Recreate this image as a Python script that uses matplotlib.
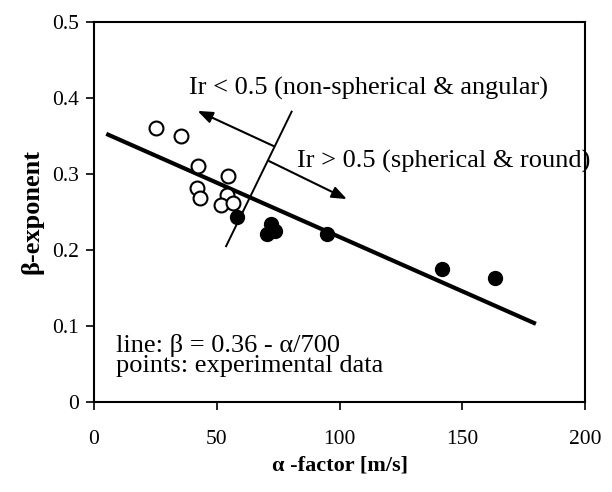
import numpy as np
import matplotlib
matplotlib.use('Agg')
import matplotlib.pyplot as plt

plt.rcParams['font.family'] = ['Liberation Serif', 'DejaVu Serif']

# experimental points, Ir < 0.5 (open) and Ir > 0.5 (filled)
alpha_open = [25.3, 35.4, 42.5, 54.7, 41.8, 43.2, 54.1, 51.6, 56.5]
beta_open = [0.361, 0.350, 0.310, 0.297, 0.282, 0.268, 0.273, 0.259, 0.262]
alpha_filled = [58.1, 72.0, 70.3, 73.7, 95.0, 141.6, 163.3]
beta_filled = [0.243, 0.234, 0.221, 0.225, 0.221, 0.175, 0.163]

# fitted line beta = 0.36 - alpha/700
line_intercept = 0.36
line_divisor = 700
line_alpha = np.array([5, 180])
line_beta = line_intercept - line_alpha / line_divisor

# boundary between the two particle groups
sep_alpha = [53.8, 80.5]
sep_beta = [0.205, 0.382]

fig = plt.figure(figsize=(6.12, 4.92), dpi=100)
ax = fig.add_axes([94 / 612, 1 - 402 / 492, (585 - 94) / 612, (402 - 22) / 492])

ax.plot(line_alpha, line_beta, color='black', lw=3.0, solid_capstyle='butt', zorder=2)
ax.plot(sep_alpha, sep_beta, color='black', lw=1.4, zorder=2)
ax.scatter(alpha_open, beta_open, s=100, facecolors='white', edgecolors='black', linewidths=1.5, zorder=3)
ax.scatter(alpha_filled, beta_filled, s=100, color='black', zorder=3)

arrow_style = dict(arrowstyle='-|>,head_length=0.9,head_width=0.35', color='black', lw=1.5,
                   shrinkA=0, shrinkB=0)
ax.annotate('', xy=(42.2, 0.383), xytext=(73.0, 0.337), arrowprops=arrow_style)
ax.annotate('', xy=(103.0, 0.267), xytext=(71.3, 0.317), arrowprops=arrow_style)

ax.text(38.5, 0.412, 'Ir < 0.5 (non-spherical & angular)', fontsize=19, va='center')
ax.text(82.5, 0.316, 'Ir > 0.5 (spherical & round)', fontsize=19, va='center')
ax.text(9, 0.074, 'line: β = 0.36 - α/700', fontsize=19, va='center')
ax.text(9, 0.047, 'points: experimental data', fontsize=19, va='center')

ax.set_xlim(0, 200)
ax.set_ylim(0, 0.5)
ax.set_xticks([0, 50, 100, 150, 200])
ax.set_yticks([0, 0.1, 0.2, 0.3, 0.4, 0.5])
ax.set_yticklabels(['0', '0.1', '0.2', '0.3', '0.4', '0.5'])
ax.tick_params(axis='both', direction='out', length=6, width=1.2, labelsize=15.5, pad=14)
ax.tick_params(axis='y', pad=5)
for sp in ax.spines.values():
    sp.set_linewidth(1.5)

ax.set_xlabel('α -factor [m/s]', fontsize=16, fontweight='bold', labelpad=5)
ax.set_ylabel('β-exponent', fontsize=19, fontweight='bold', labelpad=6)

fig.savefig('out.png', dpi=100)
